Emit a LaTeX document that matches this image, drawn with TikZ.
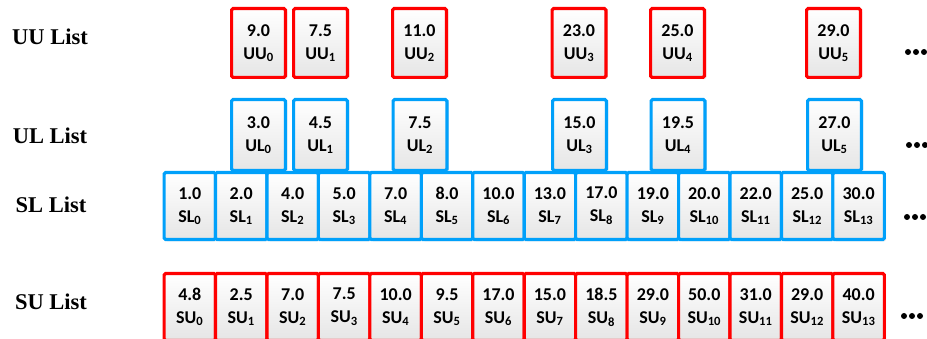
\documentclass[tikz,border=0pt]{standalone}
\usepackage{fontspec}
\setmainfont{Liberation Serif}
\newfontfamily\cellfont{Carlito}
\usetikzlibrary{shadows}

\definecolor{listred}{RGB}{255,0,0}
\definecolor{listblue}{RGB}{0,160,250}

\tikzset{
  cell/.style={draw, line width=3.1pt, rounded corners=1.5pt,
    top color=white, bottom color=black!10, inner sep=0pt, align=center,
    font=\cellfont\fontsize{18}{23}\selectfont\bfseries,
    drop shadow={shadow xshift=1.8pt, shadow yshift=-1.8pt, opacity=0.18}},
  rowcell/.style={cell, minimum width=51.45pt, minimum height=67pt},
  topcell/.style={cell, minimum width=53.9pt},
  uucell/.style={topcell, draw=listred, minimum height=68.9pt},
  ulcell/.style={topcell, draw=listblue, minimum height=70.9pt},
  slcell/.style={rowcell, draw=listblue},
  sucell/.style={rowcell, draw=listred},
  listname/.style={font=\fontsize{22.5}{27}\selectfont\bfseries, anchor=base}
}

\begin{document}
\begin{tikzpicture}[x=1pt, y=-1pt]
\useasboundingbox (0,0) rectangle (927,339);

% list names
\node[listname] (uuname) at (50,45) {UU List};
\node[listname] (ulname) at (50,144) {UL List};
\node[listname] (slname) at (51,213) {SL List};
\node[listname] (suname) at (51,309) {SU List};

% sparse lists on top
\foreach \x/\v [count=\i from 0] in {258.5/9.0, 320.5/7.5, 419.5/11.0, 579/23.0, 677.5/25.0, 833.5/29.0}
  \node[uucell] (uu\i) at (\x,43) {\v\\UU\textsubscript{\i}};
\foreach \x/\v [count=\i from 0] in {258.5/3.0, 320.5/4.5, 420/7.5, 579.5/15.0, 678/19.5, 834.5/27.0}
  \node[ulcell] (ul\i) at (\x,135) {\v\\UL\textsubscript{\i}};

% full lists
\foreach \v [count=\i from 0] in {1.0, 2.0, 4.0, 5.0, 7.0, 8.0, 10.0, 13.0, 17.0, 19.0, 20.0, 22.0, 25.0, 30.0}
  \node[slcell] (sl\i) at ({189.8+51.45*\i},206) {\v\\SL\textsubscript{\i}};
\foreach \v [count=\i from 0] in {4.8, 2.5, 7.0, 7.5, 10.0, 9.5, 17.0, 15.0, 18.5, 29.0, 50.0, 31.0, 29.0, 40.0}
  \node[sucell] (su\i) at ({189.8+51.45*\i},307) {\v\\SU\textsubscript{\i}};

% continuation dots
\foreach \x/\y in {905/52, 906/145, 904/217, 901/316}
  \foreach \k in {0,1,2}
    \fill ({\x+3+8*\k},\y) circle (3pt);
\end{tikzpicture}
\end{document}
